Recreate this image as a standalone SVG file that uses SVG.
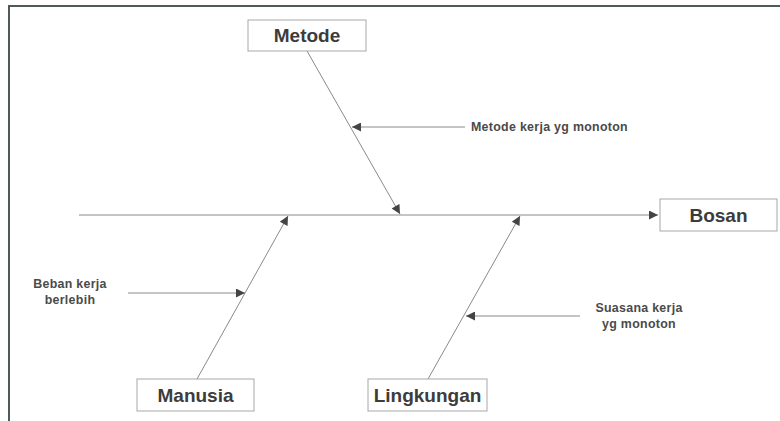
<svg xmlns="http://www.w3.org/2000/svg" width="780" height="421" viewBox="0 0 780 421">
  <style>
    .box { fill: #ffffff; stroke: #a8a8a8; stroke-width: 1; }
    .head { font-family: "Liberation Sans", Arial, sans-serif; font-weight: bold; font-size: 19px; fill: #3c3c3c; text-anchor: middle; }
    .cause { font-family: "Liberation Sans", Arial, sans-serif; font-weight: bold; font-size: 12.4px; fill: #4a4a4a; letter-spacing: 0.3px; }
    .bone { stroke: #8a8a8a; stroke-width: 1; fill: none; marker-end: url(#tip); }
    .frame { stroke: #4e5a5a; stroke-width: 2; fill: none; }
  </style>
  <defs>
    <marker id="tip" viewBox="0 0 10 10" refX="10" refY="5" markerWidth="10" markerHeight="9" markerUnits="userSpaceOnUse" orient="auto">
      <path d="M0,0 L10,5 L0,10 Z" fill="#444"/>
    </marker>
  </defs>

  <rect width="780" height="421" fill="#ffffff"/>

  <!-- page frame: top and left edges -->
  <g id="frame">
    <line class="frame" x1="8" y1="6" x2="780" y2="6"/>
    <line class="frame" x1="9" y1="5" x2="9" y2="421"/>
  </g>

  <!-- spine, main bones and cause arrows -->
  <g id="connectors">
    <line class="bone" x1="79" y1="215" x2="658" y2="215"/>
    <line class="bone" x1="307" y1="51" x2="400" y2="214"/>
    <line class="bone" x1="197" y1="379" x2="288" y2="216"/>
    <line class="bone" x1="428" y1="379" x2="520" y2="216"/>
    <line class="bone" x1="465" y1="127" x2="352" y2="127"/>
    <line class="bone" x1="128" y1="293" x2="245" y2="293"/>
    <line class="bone" x1="580" y1="316" x2="466" y2="316"/>
  </g>

  <g id="metode">
    <rect class="box" x="248" y="20" width="118" height="31"/>
    <text class="head" x="307" y="42">Metode</text>
  </g>

  <g id="bosan">
    <rect class="box" x="660" y="199" width="117" height="32"/>
    <text class="head" x="718.5" y="222">Bosan</text>
  </g>

  <g id="manusia">
    <rect class="box" x="137" y="379" width="117" height="32"/>
    <text class="head" x="195.5" y="402">Manusia</text>
  </g>

  <g id="lingkungan">
    <rect class="box" x="368" y="379" width="119" height="32"/>
    <text class="head" x="427.5" y="402">Lingkungan</text>
  </g>

  <g id="cause-metode">
    <text class="cause" x="471" y="131">Metode kerja yg monoton</text>
  </g>

  <g id="cause-manusia">
    <text class="cause" x="70" y="288" text-anchor="middle">Beban kerja</text>
    <text class="cause" x="70" y="304" text-anchor="middle">berlebih</text>
  </g>

  <g id="cause-lingkungan">
    <text class="cause" x="639" y="312" text-anchor="middle">Suasana kerja</text>
    <text class="cause" x="639" y="328" text-anchor="middle">yg monoton</text>
  </g>
</svg>
